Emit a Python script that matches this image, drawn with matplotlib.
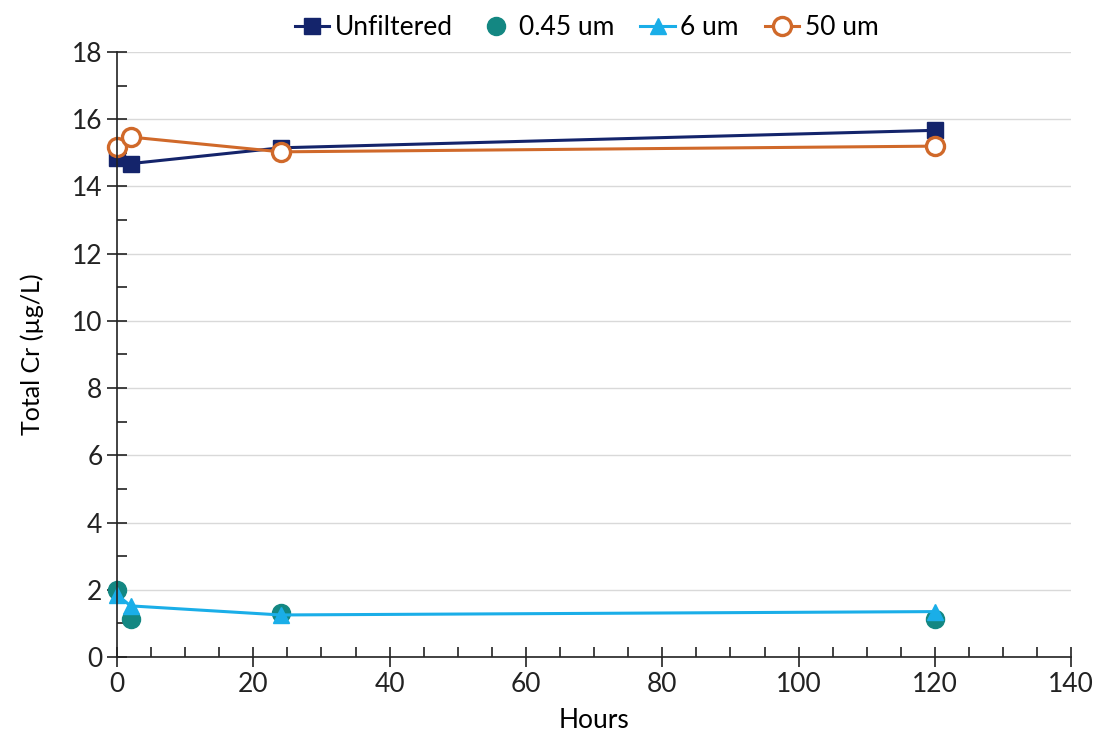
import matplotlib
matplotlib.use("Agg")
import matplotlib.pyplot as plt
from matplotlib.ticker import MultipleLocator

plt.rcParams["font.family"] = ["Lato", "DejaVu Sans"]

hours = [0, 2, 24, 120]
unfiltered = [14.85, 14.68, 15.15, 15.67]
um045 = [2.0, 1.12, 1.3, 1.12]
um6 = [1.85, 1.52, 1.25, 1.35]
um50 = [15.18, 15.47, 15.03, 15.2]

fig = plt.figure(figsize=(11.07, 7.41), dpi=100)
ax = fig.add_axes([0.1057, 0.1134, 0.862, 0.8164])

ax.plot(hours, unfiltered, color="#14246b", marker="s", ms=11, lw=2.2, label="Unfiltered", clip_on=False)
ax.plot(hours, um045, color="#138782", marker="o", ms=13, lw=0, label="0.45 um", clip_on=False)
ax.plot(hours, um6, color="#1aaee8", marker="^", ms=11, lw=2.2, label="6 um", clip_on=False)
ax.plot(hours, um50, color="#d0692a", marker="o", ms=13, lw=2.2, mfc="white",
        mew=2.4, label="50 um", clip_on=False)

ax.set_xlim(0, 140)
ax.set_ylim(0, 18)
ax.xaxis.set_major_locator(MultipleLocator(20))
ax.xaxis.set_minor_locator(MultipleLocator(5))
ax.yaxis.set_major_locator(MultipleLocator(2))
ax.yaxis.set_minor_locator(MultipleLocator(1))
ax.tick_params(which="major", direction="inout", length=14, width=1.2, labelsize=19, colors="#222222")
ax.tick_params(which="minor", direction="in", length=7, width=1.2, colors="#222222")
ax.grid(axis="y", color="#d9d9d9", lw=1)
ax.set_axisbelow(True)
for s in ["top", "right"]:
    ax.spines[s].set_visible(False)
for s in ["left", "bottom"]:
    ax.spines[s].set_color("#222222")
    ax.spines[s].set_linewidth(1.2)

ax.set_xlabel("Hours", fontsize=19, labelpad=8)
ax.set_ylabel("Total Cr (µg/L)", fontsize=18, labelpad=20)

fig.legend(loc="upper center", bbox_to_anchor=(0.53, 1.012), ncol=4, frameon=False,
           fontsize=19, handlelength=1.3, handletextpad=0.2, columnspacing=1.0)

fig.savefig("out.png", dpi=100)
